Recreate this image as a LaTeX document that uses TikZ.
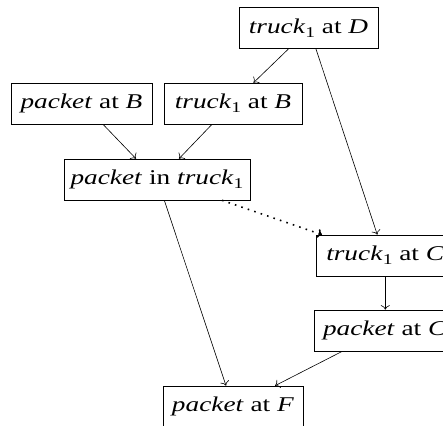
\documentclass[tikz,border=0pt]{standalone}
\usepackage{fontspec}
\setmainfont[FakeStretch=1.3]{Liberation Serif}
\usetikzlibrary{arrows.meta}
\newcommand{\trsub}{\raisebox{-0.2em}{\fontsize{15}{16}\selectfont 1}}
\begin{document}
\begin{tikzpicture}[x=1pt,y=1pt,
  box/.style={draw, line width=0.6pt, inner sep=0pt,
    minimum height=41pt, font=\fontsize{21}{24}\selectfont},
  arr/.style={-{To[length=4.5pt,width=9pt]}, line width=0.6pt},
  dotarr/.style={arr, line width=1.6pt, dash pattern=on 1.6pt off 5.2pt}]
\useasboundingbox (0,0) rectangle (443,-425);
\node[box, minimum width=139pt] (tD) at (308.5,-28.3) {\textit{truck}\trsub{} at \textit{D}};
\node[box, minimum width=141pt] (pB) at (81.5,-103.5) {\textit{packet} at \textit{B}};
\node[box, minimum width=138pt] (tB) at (233,-103.5) {\textit{truck}\trsub{} at \textit{B}};
\node[box, minimum width=186pt] (pT) at (157,-179.5) {\textit{packet} in \textit{truck}\trsub};
\node[box, minimum width=139pt, anchor=west] (tC) at (315.5,-255.5) {\textit{truck}\trsub{} at \textit{C}};
\node[box, minimum width=141pt, anchor=west] (pC) at (314,-330.5) {\textit{packet} at \textit{C}};
\node[box, minimum width=140pt] (pF) at (233,-406.5) {\textit{packet} at \textit{F}};
\draw[arr] ([xshift=-20.2pt]tD.south) -- ([xshift=20.5pt]tB.north);
\draw[arr] ([xshift=7.5pt]tD.south) -- ([xshift=-8pt]tC.north);
\draw[arr] ([xshift=21.5pt]pB.south) -- ([xshift=-21pt]pT.north);
\draw[arr] ([xshift=-21pt]tB.south) -- ([xshift=22pt]pT.north);
\draw[arr] ([xshift=7.3pt]pT.south) -- ([xshift=-7pt]pF.north);
\draw[dotarr] ([xshift=65pt]pT.south) -- ([xshift=6.5pt]tC.north west);
\draw[arr] (tC.south) -- (tC.south |- pC.north);
\draw[arr] ([xshift=-42.5pt]pC.south) -- ([xshift=42pt]pF.north);
\end{tikzpicture}
\end{document}
